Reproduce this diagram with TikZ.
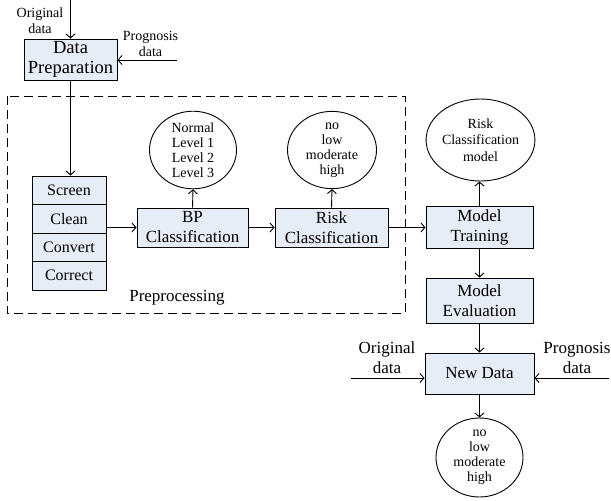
\documentclass[tikz,border=0pt]{standalone}
\usepackage{fontspec}
\setmainfont{Liberation Serif}
\usetikzlibrary{arrows.meta,shapes.geometric}
\definecolor{boxfill}{RGB}{231,237,246}
\tikzset{
  procbox/.style={draw, line width=0.9pt, fill=boxfill, inner sep=0pt, align=center,
    font=\fontsize{17}{20}\selectfont},
  outell/.style={draw, ellipse, line width=0.9pt, inner sep=0pt, align=center,
    font=\fontsize{14}{15}\selectfont},
  conn/.style={line width=0.9pt, -{Straight Barb[length=4pt,width=9pt,line width=0.9pt]}},
  smalllab/.style={inner sep=0pt, align=center, font=\fontsize{14}{16}\selectfont},
  biglab/.style={inner sep=0pt, align=center, font=\fontsize{17}{20}\selectfont},
}
\begin{document}
\begin{tikzpicture}[x=1pt,y=-1pt]
\useasboundingbox (0,0) rectangle (611,501);
% dashed preprocessing frame
\draw[line width=0.9pt, dash pattern=on 9pt off 5pt] (7,96) rectangle (405,313);
\node[biglab] (pre) at (177,298) {Preprocessing};

% data preparation
\node[procbox, minimum width=93pt, minimum height=41pt, font=\fontsize{18.5}{19.5}\selectfont] (dp) at (70.5,59.5) {Data\\Preparation};
\coordinate (odtop) at (70.5,0);
\node[smalllab] (odlab) at (40,21) {Original\\data};
\coordinate (pgin) at (177,60);
\node[smalllab] (pglab) at (150.5,43.5) {Prognosis\\data};

% stack
\node[procbox, minimum width=74pt, minimum height=28.5pt, font=\fontsize{16}{18}\selectfont] (screen) at (69,190.25) {Screen};
\node[procbox, minimum width=74pt, minimum height=28.5pt, font=\fontsize{16}{18}\selectfont] (clean) at (69,218.75) {Clean};
\node[procbox, minimum width=74pt, minimum height=28.5pt, font=\fontsize{16}{18}\selectfont] (convert) at (69,247.25) {Convert};
\node[procbox, minimum width=74pt, minimum height=28.5pt, font=\fontsize{16}{18}\selectfont] (correct) at (69,275.75) {Correct};

% classification boxes
\node[procbox, minimum width=111pt, minimum height=39pt] (bp) at (192.5,227.5) {BP\\Classification};
\node[procbox, minimum width=113pt, minimum height=39pt] (risk) at (331.5,227.5) {Risk\\Classification};
\node[outell, minimum width=87pt, minimum height=75pt] (bpc) at (193,150) {Normal\\Level 1\\Level 2\\Level 3};
\node[outell, minimum width=89pt, minimum height=75pt] (rc) at (332,150) {no\\low\\moderate\\high};

% model
\node[procbox, minimum width=107pt, minimum height=42pt] (mt) at (479.5,227) {Model\\Training};
\node[outell, minimum width=87pt, minimum height=82pt, font=\fontsize{14}{16.7}\selectfont] (rcm) at (480.5,140) {Risk\\Classification\\model};
\node[procbox, minimum width=107pt, minimum height=45pt] (me) at (479.5,300.5) {Model\\Evaluation};
\node[procbox, minimum width=109pt, minimum height=41pt] (nd) at (479.5,373.5) {New Data};
\node[outell, minimum width=87pt, minimum height=79pt] (fin) at (479.5,457.5) {no\\low\\moderate\\high};
\coordinate (odin) at (351,378);
\node[biglab] (odlab2) at (387,358) {Original\\data};
\coordinate (pdin) at (609,378);
\node[biglab] (pdlab2) at (577,358) {Prognosis\\data};

% connectors
\draw[conn] (odtop) -- (dp.north);
\draw[conn] (pgin) -- (pgin -| dp.east);
\draw[conn] (dp.south) -- (dp.south |- screen.north);
\draw[conn] (bp.west -| clean.east) -- (bp.west);
\draw[conn] (bp.north) -- (bpc.south);
\draw[conn] (bp.east) -- (risk.west);
\draw[conn] (risk.north) -- (rc.south);
\draw[conn] (risk.east) -- (risk.east -| mt.west);
\draw[conn] (mt.north) -- (mt.north |- rcm.south);
\draw[conn] (mt.south) -- (me.north);
\draw[conn] (me.south) -- (nd.north);
\draw[conn] (odin) -- (odin -| nd.west);
\draw[conn] (pdin) -- (pdin -| nd.east);
\draw[conn] (nd.south) -- (fin.north);
\end{tikzpicture}
\end{document}
